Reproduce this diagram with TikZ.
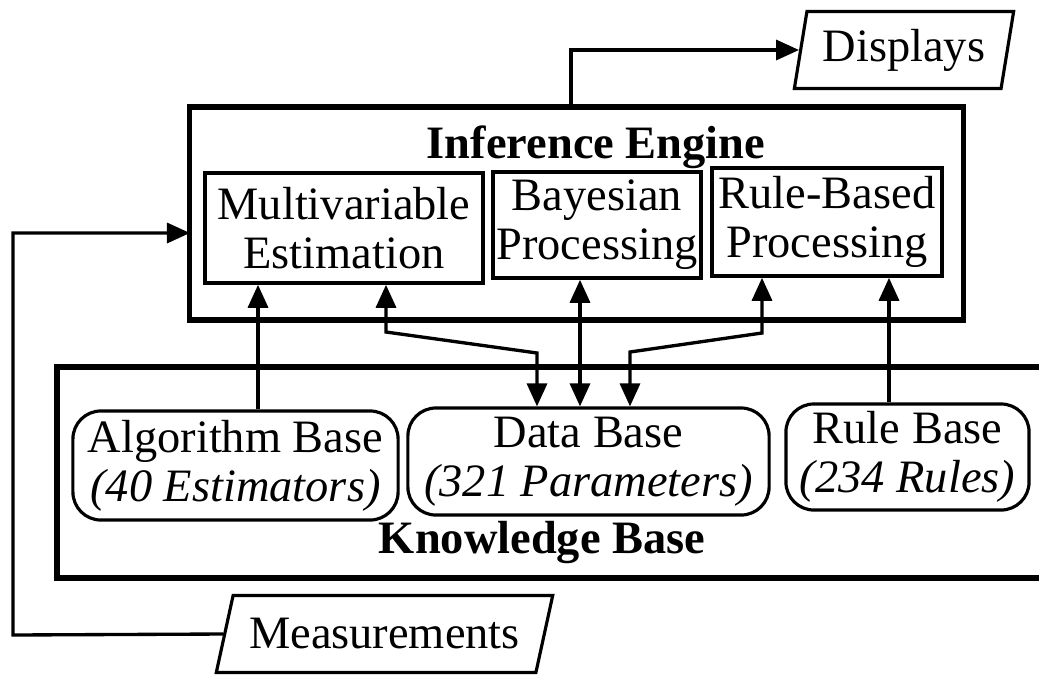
\documentclass[tikz,border=0pt]{standalone}
\usepackage{fontspec}
\setmainfont{Liberation Serif}
\usepackage{tikz}
\usetikzlibrary{shapes.geometric,arrows.meta,calc}

\begin{document}
\begin{tikzpicture}[x=0.01cm,y=-0.01cm,
    font=\fontsize{13.2}{14}\selectfont,
    outer/.style={draw,line width=1.5pt,inner sep=0pt},
    unit/.style={draw,line width=1pt,align=center,inner sep=0pt},
    base/.style={draw,line width=0.9pt,rounded corners=0.28cm,align=center,inner sep=0pt},
    port/.style={draw,line width=0.9pt,trapezium,trapezium stretches=true,inner sep=0pt},
    arr/.style={line width=0.95pt,-{Triangle[length=0.23cm,width=0.2cm]}},
    dbl/.style={line width=0.95pt,{Triangle[length=0.23cm,width=0.2cm]}-{Triangle[length=0.23cm,width=0.2cm]}}]
            \useasboundingbox (0,0) rectangle (1039,675);
            %Inference engine
            \node[outer,minimum width=7.73cm,minimum height=2.13cm] (engine) at (576.5,213.5) {};
            \node[font=\fontsize{13.2}{14}\selectfont\bfseries] (enginetitle) at (596,147) {Inference Engine};
            \node[unit,minimum width=2.78cm,minimum height=1.1cm] (mve) at (344,228) {Multivariable\\Estimation};
            \node[unit,minimum width=2.08cm,minimum height=1.06cm] (bayes) at (597,225) {Bayesian\\Processing};
            \node[unit,minimum width=2.3cm,minimum height=1.08cm] (rbp) at (827,222) {Rule-Based\\Processing};
            %Knowledge base
            \draw[line width=1.5pt] (1039,367) -- (57,367) -- (57,578) -- (1039,578);
            \node[font=\fontsize{13.2}{14}\selectfont\bfseries] (kbtitle) at (542,543) {Knowledge Base};
            \node[base,minimum width=3.25cm,minimum height=1.09cm] (algbase) at (235.5,465.5) {Algorithm Base\\\textit{(40 Estimators)}};
            \node[base,minimum width=3.61cm,minimum height=1.07cm] (database) at (588.5,461.5) {Data Base\\\textit{(321 Parameters)}};
            \node[base,minimum width=2.43cm,minimum height=1.06cm] (rulebase) at (907.5,457) {Rule Base\\\textit{(234 Rules)}};
            %In and out
            \node[port,trapezium left angle=76,trapezium right angle=104,minimum width=2.2cm,minimum height=0.77cm] (disp) at (904,50) {Displays};
            \node[port,trapezium left angle=64,trapezium right angle=116,minimum width=3.39cm,minimum height=0.77cm] (meas) at (384.5,634) {Measurements};
            \coordinate (mloop) at (13,635);
            %Arrows
            \draw[arr] (571,0 |- engine.north) |- (disp.west);
            \draw[arr] (meas.west) -- (mloop) |- (190,233);
            \draw[arr] (258,0 |- algbase.north) -- (258,0 |- mve.south);
            \draw[arr] (889,0 |- rulebase.north) -- (889,0 |- rbp.south);
            \draw[dbl] (580,0 |- bayes.south) -- (580,0 |- database.north);
            \draw[dbl] (386,0 |- mve.south) -- (386,332) -- (537,353) -- (537,0 |- database.north);
            \draw[dbl] (762,0 |- rbp.south) -- (762,333) -- (630,352) -- (630,0 |- database.north);
        \end{tikzpicture}
\end{document}
